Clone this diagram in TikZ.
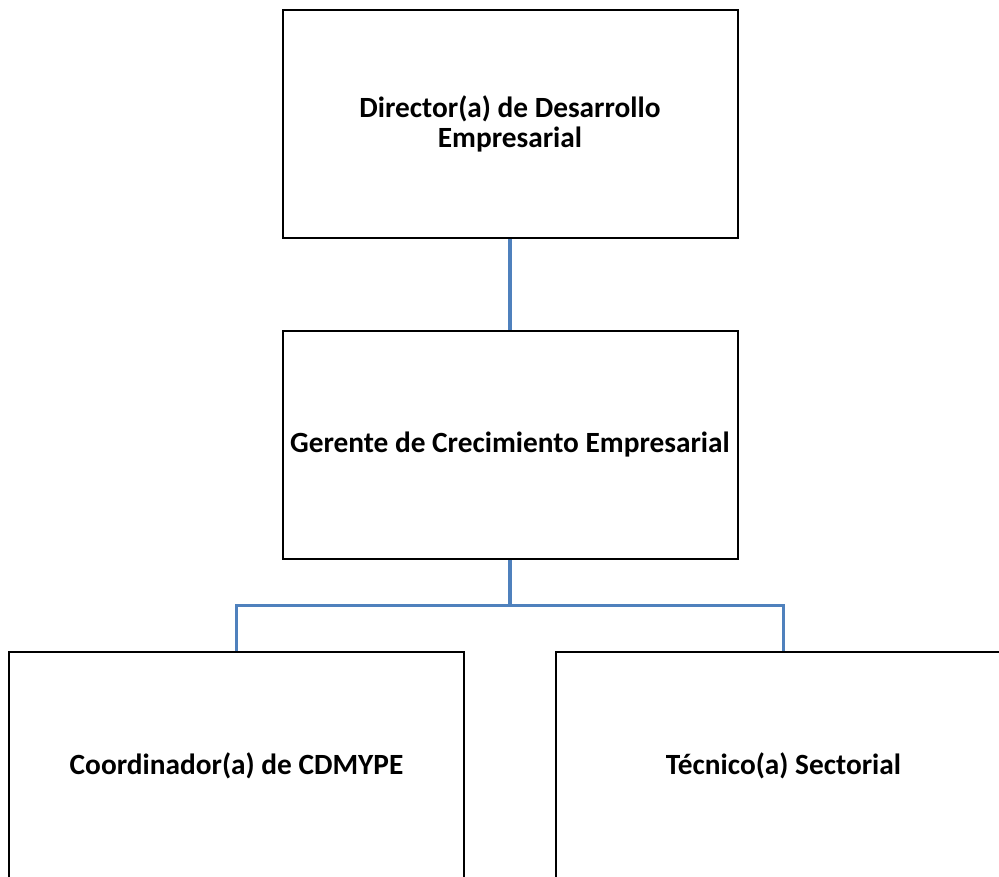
\documentclass[tikz,border=0pt]{standalone}
\usepackage{fontspec}
\setmainfont{Carlito}
\usetikzlibrary{trees}
\definecolor{linkblue}{HTML}{4F81BD}
\begin{document}
\begin{tikzpicture}[x=0.75pt,y=-0.75pt,
				every node/.style={draw=black,line width=1.5pt,fill=white,
					minimum width=341.25pt,minimum height=171pt,
					align=center,font=\fontsize{22}{22.5}\selectfont\bfseries},
				edge from parent/.style={draw=linkblue,line width=2.4pt},
				level distance=240.75pt,
				level 2/.style={sibling distance=410.25pt,edge from parent fork down}]
\clip (0,0) rectangle (999,876);
\node (dir) at (510,124) {Director(a) de Desarrollo\\Empresarial}
child { node (ger) {Gerente de Crecimiento Empresarial}
	child { node (coord) {Coordinador(a) de CDMYPE} }
	child { node (tec) {Técnico(a) Sectorial} }
};
\end{tikzpicture}
\end{document}
